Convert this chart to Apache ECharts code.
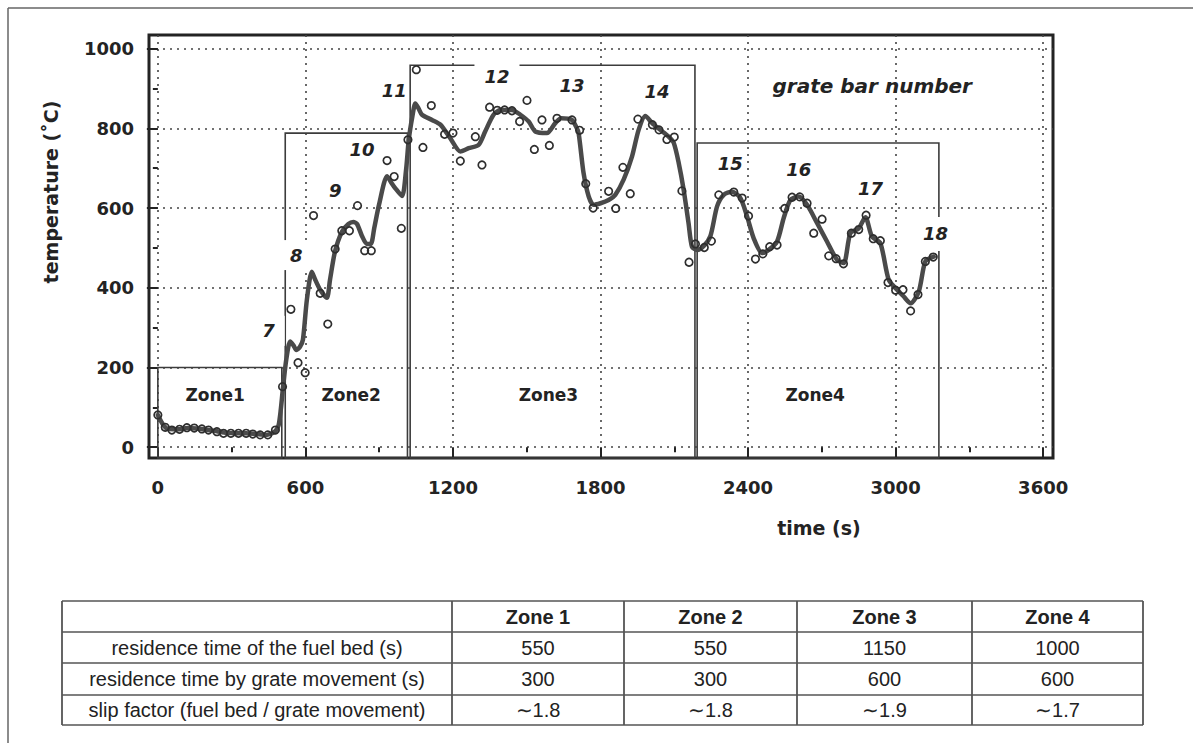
<!DOCTYPE html>
<html>
<head>
<meta charset="utf-8">
<script src="https://cdn.jsdelivr.net/npm/echarts@6/dist/echarts.min.js"></script>
<style>
  html, body { margin: 0; padding: 0; background: #ffffff; }
  #chart { width: 1193px; height: 743px; }
</style>
</head>
<body>
<div id="chart"></div>
<script>
// Axis ticks: time (s) and temperature (°C)
const timeTicks = [0, 600, 1200, 1800, 2400, 3000, 3600];
const timeMinorTicks = [300, 900, 1500, 2100, 2700, 3300];
const tempTicks = [0, 200, 400, 600, 800, 1000];
const tempMinorTicks = [100, 300, 500, 700, 900];

// Smoothed fuel bed temperature along the grate
const curveTime = [0, 20, 40, 80, 120, 160, 200, 240, 280, 320, 360, 400, 440, 465, 480, 491, 500, 508, 522, 538, 552, 563, 578, 590, 606, 626, 640, 660, 687, 700, 720, 748, 775, 795, 810, 830, 850, 866, 880, 900, 932, 948, 965, 993, 1010, 1020, 1035, 1047, 1060, 1074, 1115, 1149, 1189, 1230, 1264, 1304, 1331, 1365, 1393, 1440, 1474, 1508, 1535, 1582, 1616, 1640, 1684, 1700, 1711, 1731, 1752, 1772, 1800, 1833, 1860, 1894, 1928, 1955, 1982, 2010, 2043, 2077, 2098, 2118, 2138, 2158, 2172, 2193, 2220, 2247, 2274, 2301, 2335, 2369, 2396, 2423, 2457, 2484, 2518, 2545, 2572, 2606, 2640, 2681, 2721, 2762, 2789, 2816, 2850, 2877, 2904, 2938, 2972, 3006, 3033, 3061, 3094, 3121, 3155];
const curveTemp = [81, 58, 46, 45, 48, 47, 44, 40, 36, 35, 35, 33, 31, 35, 42, 55, 95, 144, 219, 265, 255, 244, 252, 270, 370, 440, 420, 395, 375, 420, 490, 540, 560, 565, 560, 530, 510, 510, 550, 610, 680, 665, 650, 630, 700, 770, 830, 862, 850, 834, 821, 809, 775, 742, 750, 758, 792, 834, 846, 846, 834, 817, 792, 788, 813, 825, 821, 805, 788, 688, 629, 608, 612, 620, 633, 671, 729, 796, 831, 813, 796, 779, 763, 713, 646, 562, 503, 495, 505, 530, 604, 633, 641, 625, 579, 524, 487, 495, 516, 575, 620, 629, 608, 562, 516, 470, 462, 537, 549, 577, 528, 512, 420, 395, 378, 361, 390, 466, 478];

// Measured temperatures (thermocouple readings)
const pointTime = [0, 30, 57, 88, 118, 148, 179, 206, 240, 267, 297, 328, 359, 386, 416, 447, 478, 507, 541, 570, 599, 633, 660, 691, 721, 748, 779, 812, 841, 868, 932, 961, 990, 1017, 1051, 1078, 1112, 1166, 1200, 1230, 1291, 1318, 1349, 1380, 1410, 1440, 1471, 1501, 1531, 1562, 1592, 1623, 1684, 1715, 1740, 1770, 1833, 1862, 1891, 1921, 1952, 2011, 2038, 2070, 2100, 2131, 2160, 2186, 2222, 2251, 2281, 2342, 2376, 2402, 2430, 2460, 2488, 2518, 2549, 2579, 2610, 2640, 2667, 2701, 2728, 2758, 2788, 2820, 2850, 2880, 2909, 2938, 2969, 3000, 3030, 3061, 3091, 3121, 3153];
const pointTemp = [81, 50, 43, 45, 49, 48, 46, 43, 39, 35, 35, 35, 35, 33, 31, 31, 43, 152, 346, 212, 187, 581, 386, 309, 497, 543, 543, 606, 493, 493, 719, 679, 549, 771, 947, 752, 857, 785, 788, 718, 779, 708, 853, 845, 846, 844, 817, 870, 747, 821, 757, 825, 821, 795, 661, 600, 642, 599, 702, 636, 823, 809, 796, 772, 778, 643, 464, 510, 501, 517, 633, 640, 625, 580, 472, 485, 503, 507, 599, 627, 628, 612, 537, 572, 480, 473, 460, 537, 546, 582, 523, 518, 413, 394, 395, 342, 383, 466, 477];

// Grate zones: start / end time (s) and drawn height (°C)
const zoneNames = ['Zone1', 'Zone2', 'Zone3', 'Zone4'];
const zoneStart = [0, 518, 1026, 2193];
const zoneEnd = [504, 1015, 2184, 3176];
const zoneTop = [200, 788, 958, 763];
const zoneLabelTime = [233, 786, 1588, 2673];
const zoneLabelTemp = [131, 131, 131, 131];

// Grate bar numbers
const barNumbers = ['7', '8', '9', '10', '11', '12', '13', '14', '15', '16', '17', '18'];
const barLabelTime = [464, 555, 721, 830, 961, 1379, 1684, 2030, 2328, 2606, 2898, 3162];
const barLabelTemp = [292, 482, 643, 746, 894, 930, 907, 892, 712, 696, 650, 535];
const captionText = 'grate bar number';
const captionTime = 2905;
const captionTemp = 907;

// Residence time table
const tableHeader = ['Zone 1', 'Zone 2', 'Zone 3', 'Zone 4'];
const rowLabels = [
  'residence time of the fuel bed (s)',
  'residence time by grate movement (s)',
  'slip factor (fuel bed / grate movement)'
];
const fuelBedTime = [550, 550, 1150, 1000];
const grateMoveTime = [300, 300, 600, 600];
const slipFactor = ['\u223C1.8', '\u223C1.8', '\u223C1.9', '\u223C1.7'];

// ---- layout and style ----
const timeMin = -36, timeMax = 3640;
const tempMin = -27, tempMax = 1034;
const ink = '#232323';
const boldFont = 'DejaVu Sans';
const tableFont = 'Liberation Sans';

// labels that sit on a zone edge get a white patch behind them
const patchedLabels = {
  '7': [6, 10, 6, 3],
  '8': [6, 6, 6, 10],
  '12': [5, 10, 5, 10],
  '18': [8, 2, 8, 2]
};

const chart = echarts.init(document.getElementById('chart'), null, { renderer: 'svg' });

const curveData = curveTime.map((t, i) => [t, curveTemp[i]]);
const pointData = pointTime.map((t, i) => [t, pointTemp[i]]);

const zoneAreas = zoneNames.map((n, i) => [
  { xAxis: zoneStart[i], yAxis: tempMin },
  { xAxis: zoneEnd[i], yAxis: zoneTop[i] }
]);

const zoneLabelData = zoneNames.map((n, i) => ({ name: n, value: [zoneLabelTime[i], zoneLabelTemp[i]] }));

const barLabelData = barNumbers.map((n, i) => {
  const item = { name: n, value: [barLabelTime[i], barLabelTemp[i]] };
  if (patchedLabels[n]) {
    item.label = { backgroundColor: '#ffffff', padding: patchedLabels[n] };
  }
  return item;
});
barLabelData.push({
  name: captionText,
  value: [captionTime, captionTemp],
  label: { fontSize: 20 }
});

// table drawn as graphic elements
const colEdges = [62, 452, 624, 797, 972, 1143];
const rowEdges = [601, 632, 663, 695, 725];
const tableElems = [];
rowEdges.forEach((y) => {
  tableElems.push({ type: 'line', shape: { x1: colEdges[0], y1: y, x2: colEdges[5], y2: y },
    style: { stroke: '#555', lineWidth: 1.6 } });
});
colEdges.forEach((x) => {
  tableElems.push({ type: 'line', shape: { x1: x, y1: rowEdges[0], x2: x, y2: rowEdges[4] },
    style: { stroke: '#555', lineWidth: 1.8 } });
});
const cellText = (text, col, row, bold) => ({
  type: 'text',
  x: (colEdges[col] + colEdges[col + 1]) / 2,
  y: (rowEdges[row] + rowEdges[row + 1]) / 2,
  style: {
    text: String(text), align: 'center', verticalAlign: 'middle',
    font: (bold ? 'bold ' : '') + '20px "' + tableFont + '"', fill: '#222'
  }
});
tableHeader.forEach((h, i) => tableElems.push(cellText(h, i + 1, 0, true)));
rowLabels.forEach((l, r) => tableElems.push(cellText(l, 0, r + 1, false)));
[fuelBedTime, grateMoveTime, slipFactor].forEach((vals, r) => {
  vals.forEach((v, c) => tableElems.push(cellText(v, c + 1, r + 1, false)));
});

const axisLabelStyle = {
  fontFamily: boldFont, fontWeight: 'bold', fontSize: 18, color: ink,
  formatter: (v) => String(v)
};

const option = {
  backgroundColor: '#ffffff',
  animation: false,
  grid: {
    left: 149, top: 35, width: 904, height: 423,
    show: true, borderColor: ink, borderWidth: 3, backgroundColor: 'transparent'
  },
  xAxis: [
    {
      type: 'value', min: timeMin, max: timeMax, position: 'bottom',
      axisLine: { show: false },
      axisTick: { show: true, customValues: timeTicks, length: 10, lineStyle: { color: ink, width: 2 } },
      axisLabel: Object.assign({ customValues: timeTicks, margin: 20 }, axisLabelStyle),
      splitLine: { show: true, lineStyle: { type: [2, 5], color: '#444', width: 1.6 } }
    },
    {
      type: 'value', min: timeMin, max: timeMax, position: 'bottom', offset: 0,
      axisLine: { show: false },
      axisTick: { show: true, customValues: timeMinorTicks, length: 5, lineStyle: { color: ink, width: 2 } },
      axisLabel: { show: false },
      splitLine: { show: false }
    }
  ],
  yAxis: [
    {
      type: 'value', min: tempMin, max: tempMax, position: 'left',
      axisLine: { show: false },
      axisTick: { show: true, customValues: tempTicks, length: 11, lineStyle: { color: ink, width: 2 } },
      axisLabel: Object.assign({ customValues: tempTicks, margin: 15 }, axisLabelStyle),
      splitLine: { show: true, lineStyle: { type: [2, 5], color: '#444', width: 1.6 } }
    },
    {
      type: 'value', min: tempMin, max: tempMax, position: 'left', offset: 0,
      axisLine: { show: false },
      axisTick: { show: true, customValues: tempMinorTicks, length: 5, lineStyle: { color: ink, width: 2 } },
      axisLabel: { show: false },
      splitLine: { show: false }
    }
  ],
  graphic: [
    { type: 'line', shape: { x1: 8, y1: 8, x2: 1193, y2: 8 }, style: { stroke: '#666', lineWidth: 1.5 } },
    { type: 'line', shape: { x1: 8, y1: 8, x2: 8, y2: 743 }, style: { stroke: '#666', lineWidth: 1.5 } },
    {
      type: 'text', x: 51, y: 192, rotation: Math.PI / 2,
      style: { text: 'temperature (\u02DAC)', align: 'center', verticalAlign: 'middle',
        font: 'bold 19px "' + boldFont + '"', fill: ink }
    },
    {
      type: 'text', x: 819, y: 528,
      style: { text: 'time (s)', align: 'center', verticalAlign: 'middle',
        font: 'bold 19px "' + boldFont + '"', fill: ink }
    }
  ].concat(tableElems),
  series: [
    {
      name: 'zones', type: 'line', data: [], silent: true,
      markArea: {
        silent: true,
        itemStyle: { color: 'rgba(0,0,0,0)', borderColor: '#3c3c3c', borderWidth: 1.6 },
        label: { show: false },
        data: zoneAreas
      }
    },
    {
      name: 'smoothed', type: 'line', data: curveData, smooth: 0.25,
      showSymbol: false, silent: true, z: 3,
      lineStyle: { color: '#4a4a4a', width: 4.5, cap: 'round', join: 'round' }
    },
    {
      name: 'measured', type: 'scatter', data: pointData, silent: true, z: 4,
      symbol: 'circle', symbolSize: 7.5,
      itemStyle: { color: 'rgba(255,255,255,0)', borderColor: '#2e2e2e', borderWidth: 1.7, opacity: 1 }
    },
    {
      name: 'zone labels', type: 'scatter', data: zoneLabelData, symbolSize: 0, silent: true, z: 5,
      itemStyle: { opacity: 1 },
      label: {
        show: true, position: 'inside', formatter: '{b}',
        fontFamily: boldFont, fontWeight: 'bold', fontSize: 17, color: ink
      }
    },
    {
      name: 'bar numbers', type: 'scatter', data: barLabelData, symbolSize: 0, silent: true, z: 6,
      itemStyle: { opacity: 1 },
      label: {
        show: true, position: 'inside', formatter: '{b}',
        fontFamily: boldFont, fontWeight: 'bold', fontStyle: 'italic', fontSize: 18, color: ink
      }
    }
  ]
};

chart.setOption(option);
</script>
</body>
</html>
